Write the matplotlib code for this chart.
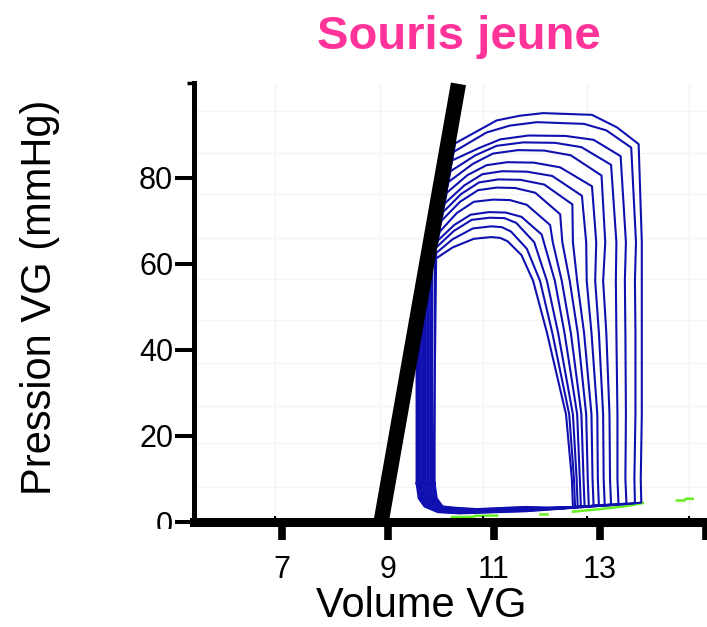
import numpy as np
import matplotlib
matplotlib.use('Agg')
import matplotlib.pyplot as plt
from matplotlib.transforms import Bbox

plt.rcParams['font.family'] = ['Liberation Sans', 'DejaVu Sans']

# ----------------- ejes
vol_ticks = [7, 9, 11, 13, 15]
vol_labels = ['7', '9', '11', '13', '']
pres_ticks = [0, 20, 40, 60, 80]
# grille legere (decalee par rapport aux graduations, comme sur l'original)
grid_v = [6.87, 8.85, 10.79, 12.75, 14.68]
grid_p = [8.1, 18.3, 27.0, 36.9, 46.9, 56.5, 66.0, 76.3, 85.8, 95.6]

# droite ESPVR (noire)
espvr_v = [8.87, 10.33]
espvr_p = [0.0, 101.8]

# ----------------- boucles pression-volume (14 boucles, de la plus petite a la plus grande)
# cote gauche (relaxation isovolumique)
ves = [9.88, 9.86, 9.83, 9.80, 9.77, 9.74, 9.71, 9.68, 9.65, 9.62, 9.60, 9.58, 9.56, 9.54]
p_meet = [np.nan, np.nan, 62.8, 60.7, 58.6, 56.5, 54.4, 52.3, 50.2, 48.2, 46.8, 45.4, 44.0, 42.6]
# remplissage (bas)
p_bot = [3.0, 2.9, 2.8, 2.8, 2.7, 2.6, 2.6, 2.5, 2.4, 2.4, 2.3, 2.2, 2.1, 2.0]
p_ed = [3.4, 3.5, 3.5, 3.6, 3.7, 3.7, 3.8, 3.9, 4.0, 4.1, 4.2, 4.3, 4.4, 4.5]
ved = [12.49, 12.53, 12.58, 12.64, 12.71, 12.79, 12.88, 12.98, 13.09, 13.21, 13.35, 13.50, 13.66, 13.78]
# cote droit (volume a P = 10, 25, 44, 56, 65 mmHg)
v10 = [12.47, 12.51, 12.56, 12.62, 12.69, 12.77, 12.86, 12.96, 13.07, 13.19, 13.33, 13.48, 13.65, 13.77]
v25 = [12.36, 12.42, 12.49, 12.57, 12.65, 12.74, 12.84, 12.95, 13.06, 13.18, 13.33, 13.49, 13.67, 13.79]
v44 = [12.00, 12.10, 12.21, 12.33, 12.45, 12.58, 12.70, 12.84, 12.98, 13.12, 13.31, 13.48, 13.67, 13.79]
v56 = [11.74, 11.87, 12.00, 12.15, 12.28, 12.43, 12.57, 12.75, 12.91, 13.06, 13.30, 13.47, 13.66, 13.79]
v65 = [np.nan, np.nan, np.nan, np.nan, 12.11, 12.29, 12.49, 12.74, 12.93, 13.10, 13.31, 13.49, 13.68, 13.79]
# epaule droite
sha_v = [11.52, 11.62, 11.76, 11.90, 12.06, 12.25, 12.48, 12.66, 12.85, 13.03, 13.21, 13.39, 13.59, 13.73]
sha_p = [62.0, 63.5, 65.0, 66.8, 69.0, 71.5, 73.8, 75.8, 78.0, 80.5, 83.0, 85.0, 87.0, 87.8]
shb_v = [11.26, 11.32, 11.42, 11.52, 11.62, 11.78, 11.95, 12.10, 12.25, 12.45, 12.65, 12.88, 13.12, 13.32]
shb_p = [65.2, 67.5, 69.5, 70.9, 73.7, 76.5, 78.4, 80.4, 82.4, 85.2, 87.1, 88.8, 91.0, 91.7]
tr_v = [11.12, 11.15, 11.20, 11.22, 11.30, 11.40, 11.50, 11.62, 11.75, 11.95, 12.15, 12.35, 12.70, 12.85]
tr_p = [66.0, 68.5, 70.6, 71.9, 74.8, 77.6, 79.5, 81.4, 83.5, 86.3, 88.1, 89.7, 92.5, 94.6]
# sommet
v_top = [10.95, 10.95, 10.92, 10.90, 10.98, 11.05, 11.08, 11.15, 11.25, 11.45, 11.55, 11.65, 11.81, 11.93]
p_top = [66.2, 68.7, 70.7, 72.0, 74.9, 77.7, 79.6, 81.5, 83.6, 86.4, 88.2, 89.8, 92.9, 95.0]
# arc gauche jusqu'au contact avec la droite ESPVR
la1_v = [10.62, 10.60, 10.58, 10.56, 10.62, 10.70, 10.72, 10.78, 10.86, 10.98, 11.05, 11.12, 11.30, 11.49]
la1_p = [65.8, 68.2, 70.2, 71.4, 74.4, 77.1, 78.9, 80.8, 82.9, 85.6, 87.4, 88.9, 92.1, 94.4]
la2_v = [10.22, 10.22, 10.24, 10.25, 10.30, 10.36, 10.38, 10.44, 10.50, 10.60, 10.65, 10.72, 10.86, 11.05]
la2_p = [63.8, 65.7, 67.6, 69.0, 71.8, 74.4, 76.2, 78.2, 80.6, 83.2, 85.2, 86.9, 90.5, 93.3]
vc = [9.88, 9.91, 9.93, 9.95, 9.98, 10.01, 10.04, 10.07, 10.11, 10.14, 10.18, 10.21, 10.24, 10.27]
pc = [61.0, 62.5, 64.0, 65.5, 67.5, 70.0, 72.0, 74.0, 76.5, 79.0, 81.5, 84.0, 86.0, 88.0]

# trace verte (en bas)
green_v = [[10.21, 10.62, 10.64, 11.06], [11.87, 12.00], [12.49, 13.00, 13.50, 13.81], [14.45, 14.60, 14.62, 14.75]]
green_p = [[1.15, 1.2, 1.45, 1.5], [1.9, 1.9], [2.4, 3.0, 3.7, 4.4], [5.0, 5.0, 5.4, 5.4]]

blue = '#1010b0'
pink = '#ff3399'

fig = plt.figure(figsize=(7.07, 6.27), dpi=100)
ax = fig.add_axes([194/707, 105/627, 513/707, 439/627])

ax.set_xlim(5.34, 15.02)
ax.set_ylim(0, 102)

# grille
for g in grid_v:
    ax.axvline(g, color='#f4f4f4', lw=1, zorder=0)
for g in grid_p:
    ax.axhline(g, color='#f4f4f4', lw=1, zorder=0)

for gv, gp in zip(green_v, green_p):
    ax.plot(gv, gp, color='#66ee22', lw=1.8, zorder=1)

for k in range(len(p_top)):
    vv = [ves[k], ves[k] + 0.04, ves[k] + 0.15, ves[k] + 0.4, ves[k] + 0.8, 11.6, ved[k] - 0.25, ved[k],
          v10[k], v25[k], v44[k], v56[k]]
    pp = [9, 5.5, 3.6, p_bot[k] + 0.3, p_bot[k], p_bot[k] + 0.5, p_ed[k] - 0.3, p_ed[k],
          10, 25, 44, 56]
    if not np.isnan(v65[k]):
        vv.append(v65[k]); pp.append(65)
    vv += [sha_v[k], shb_v[k], tr_v[k], v_top[k], la1_v[k], la2_v[k], vc[k]]
    pp += [sha_p[k], shb_p[k], tr_p[k], p_top[k], la1_p[k], la2_p[k], pc[k]]
    if not np.isnan(p_meet[k]):
        vv.append(ves[k]); pp.append(p_meet[k])
    vv.append(ves[k]); pp.append(9)
    ax.plot(vv, pp, color=blue, lw=1.5, zorder=2, solid_joinstyle='round')

ax.plot(espvr_v, espvr_p, color='black', lw=11, solid_capstyle='butt', zorder=3, clip_on=False)

# spines
for s in ['top', 'right']:
    ax.spines[s].set_visible(False)
ax.spines['left'].set_linewidth(3.6)
ax.spines['bottom'].set_linewidth(6.5)
ax.spines['left'].set_zorder(5)
ax.spines['bottom'].set_zorder(5)

ax.set_xticks(vol_ticks)
ax.set_xticklabels(vol_labels)
ax.set_yticks(pres_ticks)
ax.tick_params(axis='x', direction='out', length=13, width=5.5, pad=11, labelsize=22)
ax.tick_params(axis='y', direction='out', length=14, width=2.9, pad=1, labelsize=22)
ax.set_yticks([102], minor=True)
ax.set_xticks(grid_v, minor=True)
ax.tick_params(axis='y', which='minor', direction='out', length=5, width=2.5)
ax.tick_params(axis='x', which='minor', direction='in', length=4, width=1.5)

# le "0" est coupe en bas sur l'original
zero_lab = ax.yaxis.get_major_ticks()[0].label1
zero_lab.set_clip_on(True)
zero_lab.set_clip_box(Bbox.from_extents(0, 98, 707, 627))

fig.text(459/707, 1 - 49/627, 'Souris jeune', fontsize=34, weight='bold', color=pink,
         ha='center', va='baseline')
fig.text(421/707, 1 - 617/627, 'Volume VG', fontsize=30, ha='center', va='baseline')
fig.text(40/707, 1 - 297/627, 'Pression VG (mmHg)', fontsize=30, rotation=90,
         ha='center', va='center')

fig.savefig('out.png', dpi=100)
